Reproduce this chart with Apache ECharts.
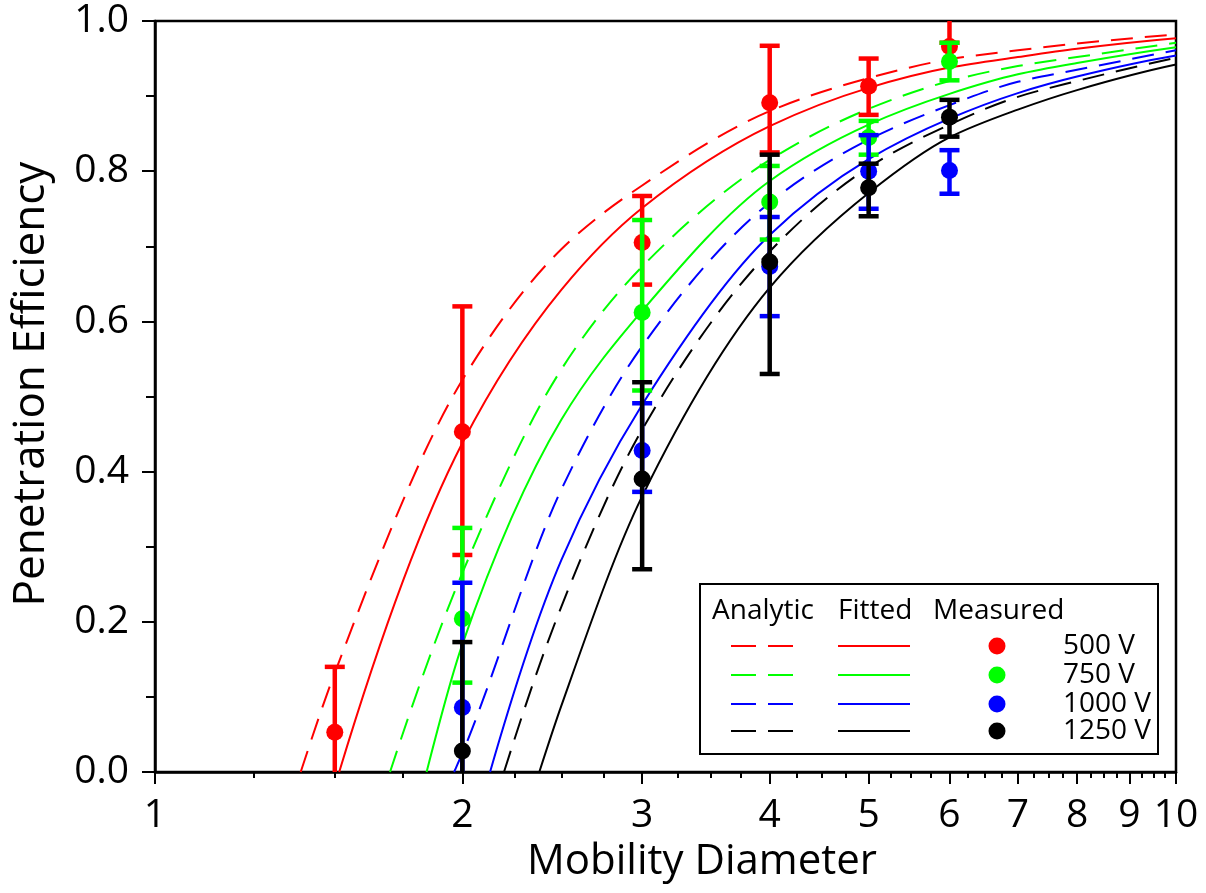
<!DOCTYPE html>
<html>
<head>
<meta charset="utf-8">
<title>Penetration Efficiency vs Mobility Diameter</title>
<script src="https://cdn.jsdelivr.net/npm/echarts@6/dist/echarts.min.js"></script>
<style>
  html, body { margin: 0; padding: 0; background: #fff; }
  #chart { width: 1206px; height: 893px; }
</style>
</head>
<body>
<div id="chart"></div>
<script>
// ---- axis ticks ----
const xMajorTicks = [1, 2, 3, 4, 5, 6, 7, 8, 9, 10];
const xMinorTicks = [1.25, 1.5, 1.75, 2.25, 2.5, 2.75, 3.25, 3.5, 3.75, 4.25, 4.5, 4.75,
  5.25, 5.5, 5.75, 6.25, 6.5, 6.75, 7.25, 7.5, 7.75, 8.25, 8.5, 8.75, 9.25, 9.5, 9.75];

// ---- voltages ----
const voltages = ['500 V', '750 V', '1000 V', '1250 V'];

// ---- measured points: diameter, efficiency, lower / upper error ----
const diam500 = [1.5, 2, 3, 4, 5, 6];
const eff500  = [0.053, 0.453, 0.705, 0.891, 0.913, 0.966];
const lo500   = [-0.034, 0.289, 0.649, 0.825, 0.875, 0.971];
const hi500   = [0.140, 0.620, 0.767, 0.967, 0.950, 1.030];

const diam750 = [2, 3, 4, 5, 6];
const eff750  = [0.204, 0.612, 0.759, 0.845, 0.946];
const lo750   = [0.119, 0.508, 0.709, 0.822, 0.921];
const hi750   = [0.325, 0.735, 0.807, 0.867, 0.971];

const diam1000 = [2, 3, 4, 5, 6];
const eff1000  = [0.086, 0.428, 0.673, 0.800, 0.801];
const lo1000   = [-0.080, 0.373, 0.607, 0.750, 0.770];
const hi1000   = [0.252, 0.491, 0.739, 0.848, 0.828];

const diam1250 = [2, 3, 4, 5, 6];
const eff1250  = [0.028, 0.390, 0.679, 0.778, 0.872];
const lo1250   = [-0.117, 0.270, 0.530, 0.740, 0.846];
const hi1250   = [0.173, 0.519, 0.822, 0.810, 0.895];

// ---- analytic curves [diameter, efficiency] ----
const analytic500  = [[1.389, 0], [1.5, 0.132], [2, 0.522], [2.5, 0.696], [3, 0.781], [4, 0.880], [5, 0.924], [6, 0.949], [7, 0.961], [8, 0.970], [10, 0.982]];
const analytic750  = [[1.699, 0], [2, 0.265], [2.5, 0.536], [3, 0.673], [4, 0.815], [5, 0.883], [6, 0.920], [7, 0.940], [8, 0.952], [10, 0.971]];
const analytic1000 = [[1.963, 0], [2, 0.025], [2.5, 0.376], [3, 0.567], [4, 0.758], [5, 0.842], [6, 0.888], [7, 0.919], [8, 0.935], [10, 0.961]];
const analytic1250 = [[2.197, 0], [2.5, 0.220], [3, 0.456], [4, 0.693], [5, 0.805], [6, 0.862], [7, 0.899], [8, 0.920], [10, 0.951]];

// ---- fitted curves [diameter, efficiency] ----
const fitted500  = [[1.515, 0], [2, 0.438], [2.5, 0.642], [3, 0.751], [4, 0.860], [5, 0.911], [6, 0.938], [7, 0.952], [8, 0.963], [10, 0.977]];
const fitted750  = [[1.845, 0], [2, 0.170], [2.5, 0.469], [3, 0.614], [4, 0.787], [5, 0.862], [6, 0.903], [7, 0.929], [8, 0.944], [10, 0.965]];
const fitted1000 = [[2.129, 0], [2.5, 0.282], [3, 0.489], [4, 0.715], [5, 0.816], [6, 0.870], [7, 0.904], [8, 0.926], [10, 0.954]];
const fitted1250 = [[2.379, 0], [2.5, 0.088], [3, 0.367], [4, 0.645], [5, 0.771], [6, 0.845], [7, 0.882], [8, 0.908], [10, 0.942]];

// ---- styling ----
const palette = ['#ff0000', '#00ff00', '#0000ff', '#000000'];
const FONT = '"Open Sans", "Noto Sans", sans-serif';
const DASH = [22, 12];

const lg = v => Math.log10(v);

const measured = [
  [diam500, eff500, lo500, hi500],
  [diam750, eff750, lo750, hi750],
  [diam1000, eff1000, lo1000, hi1000],
  [diam1250, eff1250, lo1250, hi1250]
];
const analytic = [analytic500, analytic750, analytic1000, analytic1250];
const fitted = [fitted500, fitted750, fitted1000, fitted1250];

// Monotone cubic (PCHIP) path through pixel points, as SVG path data.
function monotonePath(px) {
  const n = px.length;
  const h = [], d = [];
  for (let k = 0; k < n - 1; k++) {
    h.push(px[k + 1][0] - px[k][0]);
    d.push((px[k + 1][1] - px[k][1]) / h[k]);
  }
  const m = new Array(n);
  for (let k = 1; k < n - 1; k++) {
    if (d[k - 1] * d[k] <= 0) { m[k] = 0; continue; }
    const w1 = 2 * h[k] + h[k - 1], w2 = h[k] + 2 * h[k - 1];
    m[k] = (w1 + w2) / (w1 / d[k - 1] + w2 / d[k]);
  }
  const endSlope = (h0, h1, d0, d1) => {
    let s = ((2 * h0 + h1) * d0 - h0 * d1) / (h0 + h1);
    if (Math.sign(s) !== Math.sign(d0)) s = 0;
    else if (Math.sign(d0) !== Math.sign(d1) && Math.abs(s) > Math.abs(3 * d0)) s = 3 * d0;
    return s;
  };
  if (n > 2) {
    m[0] = endSlope(h[0], h[1], d[0], d[1]);
    m[n - 1] = endSlope(h[n - 2], h[n - 3], d[n - 2], d[n - 3]);
  } else {
    m[0] = m[n - 1] = d[0];
  }
  let path = 'M' + px[0][0] + ' ' + px[0][1];
  for (let k = 0; k < n - 1; k++) {
    const t = h[k] / 3;
    path += ' C' + (px[k][0] + t) + ' ' + (px[k][1] + m[k] * t) + ' ' +
      (px[k + 1][0] - t) + ' ' + (px[k + 1][1] - m[k + 1] * t) + ' ' +
      px[k + 1][0] + ' ' + px[k + 1][1];
  }
  return path;
}

function curveSeries(name, pts, color, dashed) {
  return {
    name: name, type: 'custom', z: 2, silent: true, animation: false,
    data: pts.map(p => [lg(p[0]), p[1]]),
    encode: { x: 0, y: 1 },
    renderItem: function (params, api) {
      if (params.dataIndex !== 0) return null;
      const px = pts.map(p => api.coord([lg(p[0]), p[1]]));
      return {
        type: 'path',
        shape: { pathData: monotonePath(px) },
        style: { stroke: color, lineWidth: 2, fill: null, lineDash: dashed ? DASH : null }
      };
    }
  };
}

const series = [];
analytic.forEach((pts, i) => series.push(curveSeries(voltages[i] + ' analytic', pts, palette[i], true)));
fitted.forEach((pts, i) => series.push(curveSeries(voltages[i] + ' fitted', pts, palette[i], false)));

// error bars with a filled marker on top, one series per voltage
measured.forEach((m, i) => {
  const [d, e, lo, hi] = m;
  const color = palette[i];
  series.push({
    name: voltages[i] + ' measured', type: 'custom', z: 3 + i,
    data: d.map((v, k) => [lg(v), e[k], lo[k], hi[k]]),
    encode: { x: 0, y: 1 },
    animation: false,
    renderItem: function (params, api) {
      const x = api.value(0), y = api.value(1), lo = api.value(2), hi = api.value(3);
      const pLo = api.coord([x, Math.max(lo, 0)]);
      const pHi = api.coord([x, Math.min(hi, 1)]);
      const p = api.coord([x, y]);
      const half = 10;
      const children = [{
        type: 'line',
        shape: { x1: pLo[0], y1: pLo[1], x2: pHi[0], y2: pHi[1] },
        style: { stroke: color, lineWidth: 4.5 }
      }];
      if (lo >= 0) children.push({
        type: 'line',
        shape: { x1: pLo[0] - half, y1: pLo[1], x2: pLo[0] + half, y2: pLo[1] },
        style: { stroke: color, lineWidth: 4.5 }
      });
      if (hi <= 1) children.push({
        type: 'line',
        shape: { x1: pHi[0] - half, y1: pHi[1], x2: pHi[0] + half, y2: pHi[1] },
        style: { stroke: color, lineWidth: 4.5 }
      });
      children.push({
        type: 'circle',
        shape: { cx: p[0], cy: p[1], r: 8.5 },
        style: { fill: color }
      });
      return { type: 'group', children: children };
    }
  });
});

// ---- legend box ----
const legendRowsY = [646, 675, 704, 731];
const legendGraphics = [
  { type: 'rect', shape: { x: 700, y: 584, width: 458, height: 170 },
    style: { fill: '#fff', stroke: '#000', lineWidth: 2 }, z: 10 },
  { type: 'text', x: 712, y: 611, z: 11,
    style: { text: 'Analytic', fontSize: 28, fontFamily: FONT, fill: '#000', align: 'left', verticalAlign: 'middle' } },
  { type: 'text', x: 838, y: 611, z: 11,
    style: { text: 'Fitted', fontSize: 28, fontFamily: FONT, fill: '#000', align: 'left', verticalAlign: 'middle' } },
  { type: 'text', x: 933, y: 611, z: 11,
    style: { text: 'Measured', fontSize: 28, fontFamily: FONT, fill: '#000', align: 'left', verticalAlign: 'middle' } }
];
voltages.forEach((v, i) => {
  const y = legendRowsY[i];
  legendGraphics.push(
    { type: 'line', z: 11, shape: { x1: 731, y1: y, x2: 793, y2: y },
      style: { stroke: palette[i], lineWidth: 2, lineDash: [25, 12] } },
    { type: 'line', z: 11, shape: { x1: 838, y1: y, x2: 910, y2: y },
      style: { stroke: palette[i], lineWidth: 2 } },
    { type: 'circle', z: 11, shape: { cx: 997, cy: y, r: 8.5 },
      style: { fill: palette[i] } },
    { type: 'text', x: 1063, y: y, z: 11,
      style: { text: v, fontSize: 28, fontFamily: FONT, fill: '#000', align: 'left', verticalAlign: 'middle' } }
  );
});

// ---- axis titles ----
const titleGraphics = [
  { type: 'text', x: 702, y: 862,
    style: { text: 'Mobility Diameter', fontSize: 42, fontFamily: FONT, fill: '#000', align: 'center', verticalAlign: 'middle' } },
  { type: 'text', x: 31, y: 384, rotation: Math.PI / 2,
    style: { text: 'Penetration Efficiency', fontSize: 44, fontFamily: FONT, fill: '#000', align: 'center', verticalAlign: 'middle' } }
];

const chart = echarts.init(document.getElementById('chart'), null, { renderer: 'canvas' });
chart.setOption({
  animation: false,
  backgroundColor: '#fff',
  grid: {
    left: 155, right: 30, top: 21, bottom: 121,
    show: true, borderColor: '#000', borderWidth: 2.5, backgroundColor: 'transparent'
  },
  xAxis: [
    {
      type: 'value', min: 0, max: 1, position: 'bottom',
      axisLine: { show: true, onZero: false, lineStyle: { color: '#000', width: 2.5 } },
      axisTick: { show: true, inside: false, length: 12, customValues: xMajorTicks.map(lg),
        lineStyle: { color: '#000', width: 2 } },
      axisLabel: { show: true, margin: 24, customValues: xMajorTicks.map(lg),
        formatter: v => String(Math.round(Math.pow(10, v))),
        fontSize: 39, fontFamily: FONT, color: '#000' },
      splitLine: { show: false }
    },
    {
      type: 'value', min: 0, max: 1, position: 'bottom',
      axisLine: { show: false },
      axisTick: { show: true, inside: false, length: 6, customValues: xMinorTicks.map(lg),
        lineStyle: { color: '#000', width: 2 } },
      axisLabel: { show: false },
      splitLine: { show: false }
    }
  ],
  yAxis: {
    type: 'value', min: 0, max: 1, interval: 0.2,
    axisLine: { show: true, onZero: false, lineStyle: { color: '#000', width: 2.5 } },
    axisTick: { show: true, inside: false, length: 13, lineStyle: { color: '#000', width: 2 } },
    minorTick: { show: true, splitNumber: 2, length: 9, lineStyle: { color: '#000', width: 2 } },
    axisLabel: { margin: 26, formatter: v => v.toFixed(1), fontSize: 39, fontFamily: FONT, color: '#000' },
    splitLine: { show: false },
    minorSplitLine: { show: false }
  },
  series: series,
  graphic: titleGraphics.concat(legendGraphics)
});
</script>
</body>
</html>
